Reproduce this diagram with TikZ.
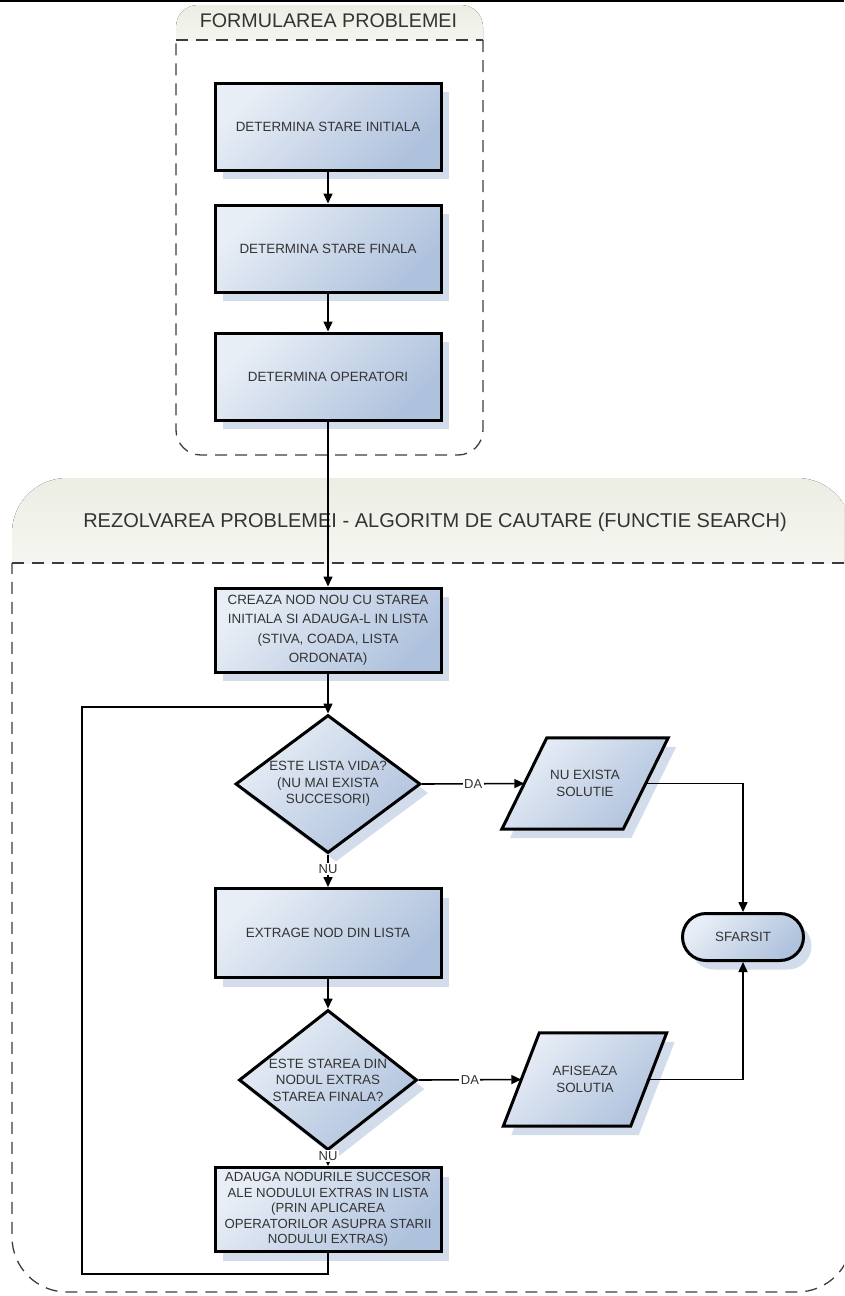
\documentclass[tikz,border=0pt]{standalone}
\usepackage{fontspec}
\setmainfont{Liberation Sans}
\usetikzlibrary{arrows.meta,shapes.geometric,shadows,calc}

\definecolor{boxlight}{HTML}{E8EEF6}
\definecolor{boxdark}{HTML}{AFC2DD}
\definecolor{shadowc}{HTML}{D3DCEA}
\definecolor{inktext}{HTML}{333333}
\definecolor{hdrtop}{HTML}{ECEDE3}
\definecolor{dashc}{HTML}{3C3C3C}

\pgfdeclarelayer{background}
\pgfsetlayers{background,main}

\tikzset{
  stepfill/.style={top color=boxlight, bottom color=boxdark, shading angle=45,
    drop shadow={shadow xshift=8pt, shadow yshift=-9pt, fill=shadowc, opacity=1}},
  boxfont/.style={font=\fontsize{13.4}{16.5}\selectfont, text=inktext},
  procbox/.style={rectangle, draw=black, line width=3pt, minimum width=226pt,
    minimum height=87pt, inner sep=2pt, align=center, boxfont, stepfill},
  decision/.style={diamond, draw=black, line width=3pt, inner sep=0pt, stepfill},
  dtext/.style={align=center, boxfont, inner sep=0pt},
  iobox/.style={rectangle, inner sep=0pt, align=center, boxfont},
  iofill/.style={draw=black, line width=3pt, stepfill},
  terminal/.style={rectangle, rounded corners=23.5pt, draw=black, line width=3pt,
    minimum width=121pt, minimum height=47pt, boxfont, stepfill},
  frame/.style={draw=dashc, line width=1.3pt, dash pattern=on 12pt off 8pt},
  title/.style={font=\fontsize{19.7}{22}\selectfont, text=inktext},
  conn/.style={draw=black, line width=1.6pt},
  arr/.style={conn, -{Triangle[length=10pt, width=9pt]}},
  yesno/.style={fill=white, inner sep=1.5pt, font=\fontsize{13}{13}\selectfont, text=inktext},
}

% slanted input/output box drawn behind the text node #1, half slant #2
\newcommand{\drawio}[2]{%
  \begin{pgfonlayer}{background}
    \path[iofill] ($(#1.north west)+(#2,0)$) -- ($(#1.north east)+(#2,0)$)
      -- ($(#1.south east)-(#2,0)$) -- ($(#1.south west)-(#2,0)$) -- cycle;
  \end{pgfonlayer}}

\begin{document}
\begin{tikzpicture}[x=1pt, y=-1pt]
\useasboundingbox (0,0) rectangle (844,1296);
\clip (0,0) rectangle (844,1296);

% rule along the top edge
\draw[line width=1.6pt] (0,0.8) -- (844,0.8);

% group headers
\begin{scope}
  \clip (0,0) rectangle (844,40);
  \fill[top color=hdrtop, bottom color=white, rounded corners=22pt] (176,5) rectangle (483,80);
\end{scope}
\begin{scope}
  \clip (0,0) rectangle (844,563);
  \fill[top color=hdrtop, bottom color=white, rounded corners=55pt] (12,478) rectangle (852,650);
\end{scope}
\node[title] (t1) at (328.5,21) {FORMULAREA PROBLEMEI};
\node[title, font=\fontsize{20}{22}\selectfont] (t2) at (435,522)
  {REZOLVAREA PROBLEMEI - ALGORITM DE CAUTARE (FUNCTIE SEARCH)};

% dashed group frames
\draw[frame] (176,40) -- (483,40);
\draw[frame, rounded corners=25pt] (483,40) -- (483,455) -- (176,455) -- (176,40);
\draw[frame] (12,563) -- (852,563);
\draw[frame, rounded corners=55pt] (852,563) -- (852,1292) -- (12,1292) -- (12,563);

% problem formulation
\node[procbox] (b1) at (328,126.5) {DETERMINA STARE INITIALA};
\node[procbox] (b2) at (328,248.5) {DETERMINA STARE FINALA};
\node[procbox] (b3) at (328,376.5) {DETERMINA OPERATORI};

% search algorithm
\node[procbox, minimum height=84pt, font=\fontsize{13.4}{19.5}\selectfont] (b4) at (328,630)
  {CREAZA NOD NOU CU STAREA\\INITIALA SI ADAUGA-L IN LISTA\\(STIVA, COADA, LISTA\\ORDONATA)};
\node[decision, minimum width=185pt, minimum height=138pt] (d1) at (328,784) {};
\node[dtext] (d1t) at (d1) {ESTE LISTA VIDA?\\(NU MAI EXISTA\\SUCCESORI)};
\node[procbox, minimum height=89pt] (b5) at (328,933) {EXTRAGE NOD DIN LISTA};
\node[decision, minimum width=178pt, minimum height=140pt] (d2) at (328,1080) {};
\node[dtext] (d2t) at (d2) {ESTE STAREA DIN\\NODUL EXTRAS\\STAREA FINALA?};
\node[procbox, minimum height=84pt, font=\fontsize{13.2}{15.6}\selectfont] (b7) at (328,1209.5)
  {ADAUGA NODURILE SUCCESOR\\ALE NODULUI EXTRAS IN LISTA\\(PRIN APLICAREA\\OPERATORILOR ASUPRA STARII\\NODULUI EXTRAS)};

\node[iobox, minimum width=121pt, minimum height=91pt] (nosol) at (585,783.5) {NU EXISTA\\SOLUTIE};
\drawio{nosol}{22.5}
\node[iobox, minimum width=127pt, minimum height=93pt] (show) at (585,1079.5) {AFISEAZA\\SOLUTIA};
\drawio{show}{18}
\node[terminal] (end) at (743,937) {SFARSIT};

% connectors
\coordinate (loopbl) at (82,1274);
\coordinate (looptl) at (82,707);
\draw[arr] (b1.south) -- (b2.north);
\draw[arr] (b2.south) -- (b3.north);
\draw[arr] (b3.south) -- (b4.north);
\draw[arr] (b4.south) -- (d1.north);
\draw[conn] (b7.south) |- (loopbl) -- (looptl) -- (looptl -| d1.north);
\draw[arr] (d1.east) -- node[yesno] (da1) {DA} (nosol.west);
\draw[arr] (d1.south) -- node[yesno, pos=0.45] (nu1) {NU} (b5.north);
\draw[arr] (nosol.east) -| (end.north);
\draw[arr] (b5.south) -- (d2.north);
\draw[arr] (d2.east) -- node[yesno] (da2) {DA} (show.west);
\draw[arr] (d2.south) -- node[yesno, pos=0.3] (nu2) {NU} (b7.north);
\draw[arr] (show.east) -| (end.south);
\end{tikzpicture}
\end{document}
